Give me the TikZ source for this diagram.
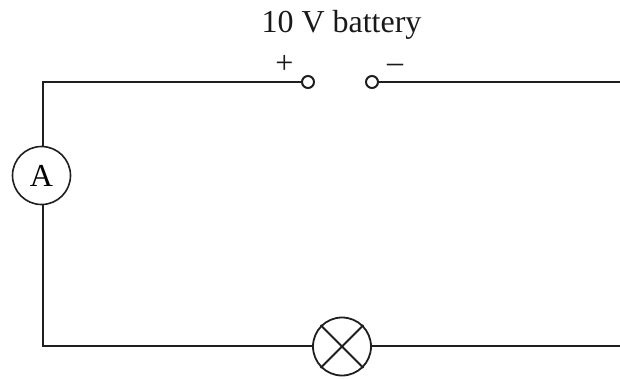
\documentclass[tikz,border=0pt]{standalone}
\usepackage{fontspec}
\setmainfont{Liberation Serif}
\usetikzlibrary{shapes.misc}
\tikzset{
  wire/.style={draw=black!88, line width=2pt},
  terminal/.style={circle, draw=black!88, line width=2pt, fill=white, minimum size=12pt, inner sep=0pt},
  meter/.style={circle, draw=black!88, line width=1.6pt, fill=white, minimum size=58pt, inner sep=0pt, font=\fontsize{32}{32}\selectfont},
  lamp/.style={cross out, draw=black!88, line width=1.8pt, minimum size=41pt, inner sep=0pt},
  lampring/.style={circle, draw=black!88, line width=1.8pt, fill=white, minimum size=58pt, inner sep=0pt},
  caption/.style={inner sep=0pt, text=black!90, font=\fontsize{32}{32}\selectfont},
  sign/.style={inner sep=0pt, text=black!90, font=\fontsize{32}{32}\selectfont}
}
\begin{document}
\begin{tikzpicture}[x=1pt,y=-1pt]
\useasboundingbox (0,0) rectangle (620,378);
\node[caption] (title) at (341.5,25) {10 V battery};
\node[sign] (plus) at (284.5,64) {+};
\node[sign] (minus) at (395,68) {–};
\node[terminal] (tp) at (308,82) {};
\node[terminal] (tm) at (372,82) {};
\node[meter] (am) at (41.5,175.5) {A};
\node[lampring] (ring) at (342,346.5) {};
\node[lamp] (x) at (342,346.5) {};
\coordinate (tl) at (43,82);
\coordinate (bl) at (43,346);
\coordinate (tr) at (620,82);
\coordinate (br) at (620,346);
\coordinate (amtop) at (43,146);
\coordinate (ambot) at (43,205);
\draw[wire] (tp.west) -- (tl) -- (amtop);
\draw[wire] (ambot) -- (bl) -- (ring.west |- bl);
\draw[wire] (ring.east |- br) -- (br);
\draw[wire] (tm.east) -- (tr);
\end{tikzpicture}
\end{document}
